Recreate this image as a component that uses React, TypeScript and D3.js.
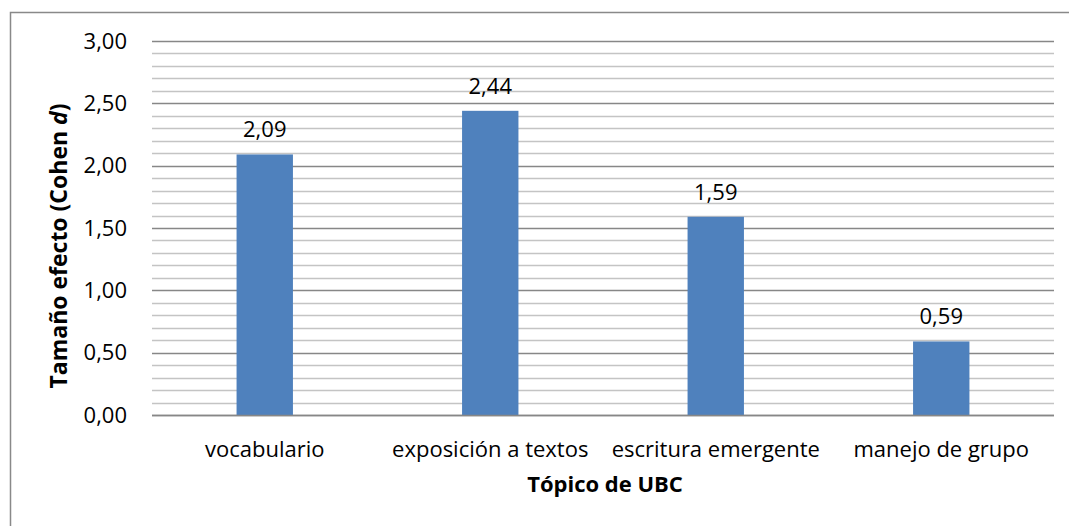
import React from "react";
import * as d3 from "d3";

const categories = ["vocabulario", "exposición a textos", "escritura emergente", "manejo de grupo"];
const values = [2.09, 2.44, 1.59, 0.59];
const majorTicks = [0, 0.5, 1, 1.5, 2, 2.5, 3];
const minorTicks = d3.range(0, 31).map((i) => i / 10);
const yTitle = "Tamaño efecto (Cohen ";
const yTitleItalic = "d";
const xTitle = "Tópico de UBC";

const W = 1069;
const H = 526;
const margin = { left: 152, right: 1054, top: 41, bottom: 415 };
const FONT = "'Open Sans', 'Noto Sans', sans-serif";
const FS = 22;

const fmt = (v: number) => v.toFixed(2).replace(".", ",");

export default function App() {
  const x = d3.scaleBand<string>().domain(categories).range([margin.left, margin.right]).paddingInner(0).paddingOuter(0);
  const y = d3.scaleLinear().domain([0, 3]).range([margin.bottom, margin.top]);
  const bw = x.bandwidth() * 0.25;
  const isMajor = (t: number) => Math.abs(t * 2 - Math.round(t * 2)) < 1e-6;

  return (
    <svg width={W} height={H} style={{ position: "absolute", left: 0, top: 0, background: "#fff" }}>
      <rect x={0} y={0} width={W} height={H} fill="#fff" />
      {/* chart border */}
      <path d={`M10.5,${H} L10.5,12.5 L${W},12.5`} fill="none" stroke="#898989" strokeWidth={1.5} />
      {/* minor gridlines */}
      {minorTicks.filter((t) => !isMajor(t)).map((t) => (
        <line key={"m" + t} x1={margin.left} x2={margin.right} y1={Math.round(y(t)) + 0.5} y2={Math.round(y(t)) + 0.5} stroke="#c4c4c4" strokeWidth={1.5} />
      ))}
      {/* major gridlines */}
      {majorTicks.map((t) => (
        <line key={"M" + t} x1={margin.left} x2={margin.right} y1={Math.round(y(t)) + 0.5} y2={Math.round(y(t)) + 0.5} stroke="#878787" strokeWidth={1.5} />
      ))}
      {/* bars */}
      {values.map((v, i) => {
        const cx = (x(categories[i]) as number) + x.bandwidth() / 2;
        return (
          <g key={i}>
            <rect x={cx - bw / 2} y={y(v)} width={bw} height={y(0) - y(v)} fill="#4f81bd" />
            <text x={cx} y={y(v) - 17} textAnchor="middle" fontFamily={FONT} fontSize={FS} fill="#000">
              {fmt(v)}
            </text>
          </g>
        );
      })}
      {/* baseline */}
      <line x1={margin.left} x2={margin.right} y1={Math.round(y(0)) + 0.5} y2={Math.round(y(0)) + 0.5} stroke="#878787" strokeWidth={1.5} />
      {/* y tick labels */}
      {majorTicks.map((t) => (
        <text key={"l" + t} x={127} y={y(t) + 7.5} textAnchor="end" fontFamily={FONT} fontSize={FS} fill="#000">
          {fmt(t)}
        </text>
      ))}
      {/* x category labels */}
      {categories.map((c) => (
        <text key={c} x={(x(c) as number) + x.bandwidth() / 2} y={457} textAnchor="middle" fontFamily={FONT} fontSize={FS} fill="#000">
          {c}
        </text>
      ))}
      {/* axis titles */}
      <text x={605} y={492} textAnchor="middle" fontFamily={FONT} fontSize={FS} fontWeight="bold" fill="#000">
        {xTitle}
      </text>
      <text transform={`translate(67,246) rotate(-90)`} textAnchor="middle" fontFamily={FONT} fontSize={23} fontWeight="bold" fill="#000">
        {yTitle}
        <tspan fontStyle="italic">{yTitleItalic}</tspan>)
      </text>
    </svg>
  );
}
